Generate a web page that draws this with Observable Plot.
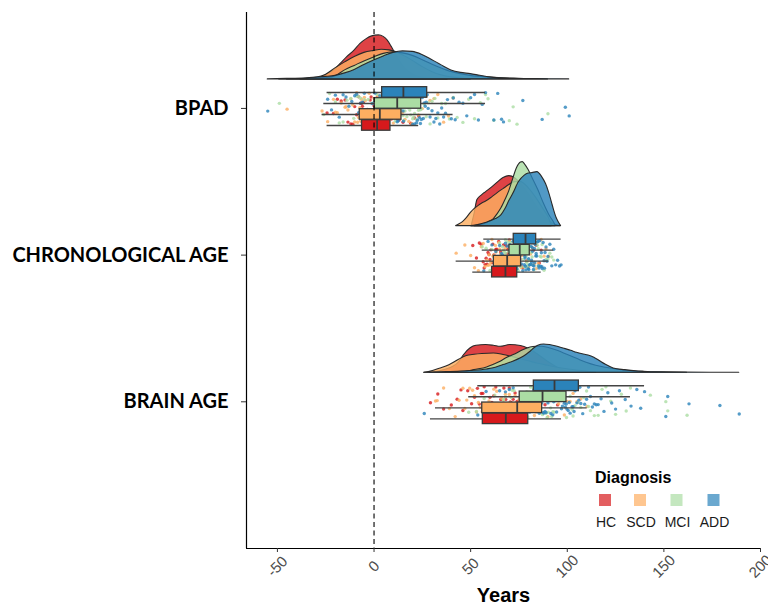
<!DOCTYPE html>
<html><head><meta charset="utf-8">
<script src="https://cdn.jsdelivr.net/npm/d3@7"></script>
<script src="https://cdn.jsdelivr.net/npm/@observablehq/plot@0.6"></script>
<style>body{margin:0;background:#fff;} svg{display:block;}</style>
</head><body><div id="chart"></div>
<script>
// ---------------- DATA ----------------
const categories = ["BRAIN AGE", "CHRONOLOGICAL AGE", "BPAD"]; // bottom -> top
const groups = ["HC", "SCD", "MCI", "ADD"];
const groupColors = ["#D7191C", "#FDAE61", "#ABDDA4", "#2B83BA"];
const xTicks = [-50, 0, 50, 100, 150, 200];
const xDomain = [-66, 200];
const refValue = 0;
const xTitle = "Years";
const legendTitle = "Diagnosis";

// boxplot stats per group (HC, SCD, MCI, ADD): [whiskerLow, q1, median, q3, whiskerHigh]
const boxBPAD = [[-24.3, -6.2, 1.6, 8.5, 23.1], [-26.9, -7.4, 3.0, 14.2, 40.9], [-26.0, 0.4, 12.0, 24.4, 57.7], [-24.3, 4.2, 15.2, 27.5, 57.7]];
const boxCA   = [[51.1, 61.1, 68.0, 74.1, 86.5], [42.5, 62.0, 68.9, 76.1, 90.4], [56.0, 70.1, 75.4, 80.6, 93.0], [56.8, 72.3, 78.4, 83.9, 96.8]];
const boxBA   = [[29.2, 56.3, 68.2, 79.8, 97.0], [31.8, 56.0, 74.1, 87.0, 110.3], [49.0, 75.4, 87.2, 99.6, 132.7], [53.7, 82.7, 93.4, 106.0, 140.0]];

// individual observations (years)
const ptsBPAD_HC  = [-24.3, -21, -19, -17, -15, -13.5, -12, -11, -10, -9, -8, -7, -6.5, -6.2, -6, -5.5, -5, -4, -3.5, -3, -2, -1.5, -1, 0, 0.5, 1, 1.6, -2.5, 2, 2.5, 3, 3.5, 4, 4.5, 5, 5.5, 6, 6.5, 7, 7.5, 8, 8.5, 9, 9.5, 10, 11, 12, 13, 14, 15, 16, 17.5, 19, 21, 23.1];
const ptsBPAD_SCD = [-45, -26.9, -24, -21, -19, -17, -15, -13.5, -12, -11, -10, -9, -8.5, -8, -7.4, -14.5, -20, -7, -6.5, -6, -5, -4.5, -4, -3, -2.5, -2, -1, -0.5, 0, 1, 1.5, 2, 3, 3.5, 4, 4.5, 5, 6, 6.5, 7, 8, 8.5, 9, 10, 10.5, 11, 12, 13, 14.2, 15, 16, 17, 18, 19.5, 21, 23, 25, 27, 29, 31, 33, 36, 38.5, 40.9];
const ptsBPAD_MCI = [-49, -26, -23, -20, -18, -16, -14, -12, -10.5, -9, -8, -7, -6, -5, -4, -3, -2, -1.5, -1, -0.5, 0, 0.4, -2.5, 0.8, 1.5, 2, 2.5, 3, 3.5, 4, 4.5, 5, 5.5, 6, 6.5, 7, 7.5, 8, 8.5, 9, 9.5, 10, 10.5, 11, 11.5, 12, 12.5, 13, 13.5, 14, 14.5, 15, 15.5, 16, 16.5, 17, 17.5, 18, 18.5, 19, 19.5, 20, 21, 22, 23, 24, 24.4, 20.5, 25, 26, 27, 28, 29, 30, 31.5, 33, 35, 37, 39, 41, 43, 46, 49, 52, 55, 57.7, 59, 62, 70, 72, 74, 90];
const ptsBPAD_ADD = [-55, -24, -22, -20, -18, -16, -14.5, -13, -11.5, -10, -9, -8, -7, -6, -5, -4, -3, -2, -1, 0, 0.5, 1, 1.5, 2, 3, 4, 4.5, 5, 5.5, 6, 6.5, 7, 7.5, 8, 8.5, 9, 9.5, 10, 10.5, 11, 11.5, 12, 12.5, 13, 13.5, 14, 14.5, 15, 15.2, 4.8, 7.2, 15.5, 16, 16.5, 17, 17.5, 18, 18.5, 19, 19.5, 20, 20.5, 21, 21.5, 22, 22.5, 23, 23.5, 24, 24.5, 25, 25.5, 26, 26.5, 27, 27.5, 28, 29, 30, 31, 32, 33, 34, 35, 36, 37, 38, 40, 41, 42, 44, 46, 48, 50, 52, 54, 56, 57.7, 62, 64, 66, 67, 77, 87, 99, 101];

const ptsCA_HC  = [51.1, 53, 54.5, 55.5, 56.5, 57.5, 58, 58.5, 59, 59.5, 60, 60.5, 61.1, 57, 61.5, 62, 62.5, 63, 63.5, 64, 64.5, 65, 65.5, 66, 66.5, 67, 67.5, 68, 68.4, 68.8, 69.2, 69.6, 70, 70.5, 71, 71.5, 72, 72.5, 73, 73.5, 74.1, 70.8, 74.5, 75, 75.5, 76, 76.5, 77, 78, 79, 80, 81, 82.5, 84, 85.5, 86.5];
const ptsCA_SCD = [42.5, 47, 50, 52, 54, 55.5, 56.5, 57.5, 58.5, 59, 59.5, 60, 60.5, 61, 61.5, 62, 62.4, 62.8, 63.2, 63.6, 64, 64.5, 65, 65.5, 66, 66.5, 67, 67.5, 68, 68.4, 68.9, 64.8, 69.3, 69.7, 70.1, 70.5, 71, 71.5, 72, 72.5, 73, 73.5, 74, 74.5, 75, 75.5, 76.1, 72.8, 76.5, 77, 77.5, 78, 79, 80, 81, 82, 83, 84, 85, 86.5, 88, 89, 90.4, 78.5];
const ptsCA_MCI = [56, 58, 60, 62, 63.5, 65, 66, 67, 67.5, 68, 68.5, 69, 69.3, 69.6, 70, 70.1, 64.2, 66.5, 68.2, 61, 70.4, 70.7, 71, 71.3, 71.6, 72, 72.3, 72.6, 73, 73.3, 73.6, 74, 74.3, 74.6, 75, 75.4, 71.8, 72.8, 73.8, 74.8, 75.2, 75.7, 76, 76.3, 76.6, 77, 77.3, 77.6, 78, 78.3, 78.6, 79, 79.3, 79.6, 80, 80.3, 80.6, 76.8, 77.8, 78.8, 79.8, 75.9, 81, 81.5, 82, 82.5, 83, 83.5, 84, 84.5, 85, 86, 87, 88, 89, 90, 91, 92, 93, 81.8, 82.8, 84.8, 86.5];
const ptsCA_ADD = [56.8, 59, 61, 62.5, 64, 65, 66, 67, 67.5, 68, 68.5, 69, 69.5, 70, 70.3, 70.6, 71, 71.3, 71.6, 72, 72.3, 63, 66.5, 68.8, 72.5, 72.8, 73, 73.3, 73.6, 74, 74.3, 74.6, 75, 75.3, 75.6, 76, 76.3, 76.6, 77, 77.3, 77.6, 78, 78.2, 78.4, 73.8, 75.8, 77.8, 76.8, 78.6, 78.9, 79.2, 79.5, 79.8, 80.1, 80.4, 80.7, 81, 81.3, 81.6, 81.9, 82.2, 82.5, 82.8, 83.1, 83.4, 83.7, 83.9, 79, 80, 81.5, 82, 83, 84.2, 84.6, 85, 85.4, 85.8, 86.2, 86.6, 87, 87.5, 88, 88.5, 89, 89.5, 90, 91, 92, 93, 94, 95, 96, 96.8, 85.2, 86.9, 88.2];

const ptsBA_HC  = [29.2, 33, 36, 40, 43, 46, 48.5, 50.5, 52, 53.5, 54.5, 55.5, 56.3, 45, 57, 58, 59, 60, 61, 62, 63, 64, 64.8, 65.6, 66.4, 67.2, 68.2, 61.5, 69, 70, 71, 72, 73, 74, 75, 76, 77, 78, 78.8, 79.8, 70.5, 74.5, 80.5, 81.5, 82.5, 83.5, 84.5, 85.5, 87, 88.5, 90, 91.5, 93, 95, 97, 86];
const ptsBA_SCD = [31.8, 32.7, 36, 39, 42, 44, 46, 48, 49.5, 51, 52, 53, 54, 55, 56, 47, 57, 58, 59.5, 61, 62, 63.5, 65, 66, 67, 68, 69, 70, 71, 72, 73, 74.1, 75, 75.8, 76.6, 77.4, 78.2, 79, 79.8, 80.6, 81.4, 82.2, 83, 83.8, 84.6, 85.4, 86.2, 87, 88, 89, 90, 91, 92.5, 94, 95.5, 97, 98.5, 100, 101.5, 103, 105, 107, 110.3, 93];
const ptsBA_MCI = [49, 53, 57, 60, 62.5, 64.5, 66.5, 68, 69.5, 70.5, 71.5, 72.5, 73.5, 74.5, 75.4, 67, 71, 73, 74, 76, 76.6, 77.2, 77.8, 78.4, 79, 79.6, 80.2, 80.8, 81.4, 82, 82.6, 83.2, 83.8, 84.4, 85, 85.6, 86.2, 86.8, 87.2, 81.1, 87.8, 88.4, 89, 89.6, 90.2, 90.8, 91.4, 92, 92.6, 93.2, 93.8, 94.4, 95, 95.6, 96.2, 96.8, 97.4, 98, 98.6, 99.6, 91.1, 100.5, 101.5, 102.5, 104, 105.5, 107, 108.5, 110, 112, 114, 116, 118, 120, 122.5, 125, 128, 130.5, 132.7, 103, 111, 143, 151, 152, 162];
const ptsBA_ADD = [26, 53.7, 58, 62, 65, 68, 70, 72, 74, 75.5, 76.5, 77.5, 78.5, 79, 79.5, 80, 80.5, 81, 81.5, 82, 82.7, 66.5, 73, 77, 80.8, 83, 83.5, 84, 84.5, 85, 85.5, 86, 86.5, 87, 87.5, 88, 88.5, 89, 89.5, 90, 90.5, 91, 91.5, 92, 92.5, 93, 93.4, 86.8, 89.8, 94, 94.5, 95, 95.5, 96, 96.5, 97, 97.5, 98, 98.5, 99, 99.5, 100, 100.5, 101, 101.5, 102, 102.5, 103, 104, 105, 106, 99.8, 103.5, 106.5, 107, 108, 109, 110, 111, 112, 113, 114, 115, 116, 117.5, 119, 121, 123, 125, 127, 130, 133, 136, 138, 140, 151, 152, 163, 179, 189];

// density curves: [years, relative density]
const densBPAD_HC  = [[-38, 0], [-30, 0.5], [-25, 4], [-20, 10], [-17, 16], [-14, 22], [-10, 29], [-7, 35.5], [-4, 40], [-1, 43], [2.5, 44], [5, 42.5], [7, 39], [9, 33], [11, 26], [13, 19], [16, 11], [20, 5], [25, 1.5], [30, 0.4], [38, 0]];
const densBPAD_SCD = [[-45, 0], [-35, 0.3], [-30, 1.5], [-25, 4.5], [-20, 11], [-15, 17], [-10, 22.5], [-5, 26.5], [0, 28.5], [4, 29.7], [8, 29], [12, 27], [16, 23], [20, 18.5], [25, 12.5], [30, 7.5], [35, 4], [40, 2], [46, 0.5], [50, 0]];
const densBPAD_MCI = [[-49, 0], [-40, 0.2], [-30, 0.6], [-25, 1.2], [-20, 3], [-15, 9], [-10, 13.5], [-5, 18], [0, 22], [5, 25.5], [10, 27], [15, 26], [20, 23.5], [25, 19.5], [30, 15], [35, 11], [40, 7.5], [50, 3.5], [60, 1.8], [75, 0.6], [90, 0]];
const densBPAD_ADD = [[-55, 0], [-45, 0.5], [-35, 1.2], [-30, 1.8], [-25, 2.5], [-20, 3.5], [-15, 6], [-10, 9.5], [-5, 14.5], [0, 19], [5, 23], [10, 26.5], [15, 28], [20, 27.5], [25, 24.5], [30, 19.5], [35, 14], [40, 9], [45, 6.5], [50, 5.3], [55, 3.6], [60, 2], [65, 1.1], [70, 0.6], [80, 0.3], [90, 0.15], [101, 0]];

const densCA_HC  = [[50.5, 0], [52, 12], [53.5, 26], [56, 31], [58, 34], [61, 38.5], [64, 43.5], [67, 48], [70, 50], [73, 48], [76, 42], [80, 32], [84, 20], [88, 10], [92, 3], [95, 0.5], [96.5, 0]];
const densCA_SCD = [[42.5, 0], [44, 1.5], [46, 4], [48, 8], [50, 13], [52, 17], [54, 20], [56, 22.5], [58, 24.5], [61, 28.5], [64, 33], [67, 37], [70, 41], [73, 44], [76, 44], [80, 38], [84, 28], [88, 16], [90.5, 8], [92, 0]];
const densCA_MCI = [[50, 0], [55, 1], [58, 2.5], [60, 4.5], [62, 7], [64, 12], [66, 18], [68, 26], [70, 35], [72, 47], [74, 58], [76, 63.5], [77, 64], [78, 62], [80, 56], [82, 48], [85, 36], [88, 22], [91, 10], [93, 4], [94, 0]];
const densCA_ADD = [[52, 0], [56, 2], [60, 4.5], [63, 7], [66, 11], [68, 17], [70, 25], [72, 32], [75, 44], [78, 50.5], [80, 52.5], [82, 53], [84.5, 54], [87, 49], [89, 42], [90.5, 34], [92, 24], [93, 17], [94.5, 8], [95.5, 4], [96.8, 0]];

const densBA_HC  = [[29, 0], [33, 1], [37, 3], [41, 6], [44, 10.5], [46.5, 17.5], [50, 24.5], [53, 27], [58, 27.7], [62, 27], [65.5, 26], [70.5, 27.7], [76, 26.7], [80, 24], [85, 18], [90, 11], [95, 5], [98, 2], [100, 0]];
const densBA_SCD = [[26, 0], [30, 1.5], [34, 4], [39, 7.5], [44, 13], [48, 16.7], [52, 18], [56, 18.8], [62, 19.3], [67, 17.8], [71, 16], [75, 14], [80, 11.5], [85, 9], [90, 7], [95, 5], [100, 3.5], [105, 2.3], [110, 1.2], [115, 0]];
const densBA_MCI = [[45, 0], [48, 1], [52, 2.7], [58.5, 5.3], [62, 8], [65.5, 11], [69, 15], [72.3, 17.7], [77.5, 22.7], [81, 25.3], [84, 26], [87, 26], [90, 25], [95, 22], [100, 18], [105, 14], [110, 10], [115, 7], [120, 5], [130, 2], [140, 0.8], [150, 0.4], [162, 0]];
const densBA_ADD = [[26, 0], [35, 0.5], [45, 1.2], [50, 1.8], [58.5, 3.3], [63, 5], [67, 7.7], [72, 11], [76, 14.5], [79, 18], [81, 21], [83, 24.5], [85, 27], [88, 28.3], [91, 27.7], [95, 26], [98, 24.3], [102, 22], [105, 20], [108, 18.5], [111, 17.3], [114, 15], [117, 11.5], [120, 8], [124, 4.3], [130, 2.6], [137, 1.3], [145, 0.4], [160, 0.15], [175, 0.05], [189, 0]];

// ---------------- ASSEMBLY ----------------
const byCat = {
  "BPAD": {box: boxBPAD, pts: [ptsBPAD_HC, ptsBPAD_SCD, ptsBPAD_MCI, ptsBPAD_ADD], dens: [densBPAD_HC, densBPAD_SCD, densBPAD_MCI, densBPAD_ADD]},
  "CHRONOLOGICAL AGE": {box: boxCA, pts: [ptsCA_HC, ptsCA_SCD, ptsCA_MCI, ptsCA_ADD], dens: [densCA_HC, densCA_SCD, densCA_MCI, densCA_ADD]},
  "BRAIN AGE": {box: boxBA, pts: [ptsBA_HC, ptsBA_SCD, ptsBA_MCI, ptsBA_ADD], dens: [densBA_HC, densBA_SCD, densBA_MCI, densBA_ADD]}
};

// layout (y in category units)
const yDomain = [0, 3.654];
const catPos = c => categories.indexOf(c) + 1;
const DENS_BASE = 0.198, DENS_SCALE = 1 / 146.7;
const BOX_OFF = [-0.116, -0.041, 0.034, 0.109];
const BOX_HALF = 0.036, JITTER = 0.108;

function jit(i, s) {
  let t = (Math.imul(i + 1, 0x9E3779B1) ^ Math.imul(s + 7, 0x85EBCA77)) >>> 0;
  t ^= t >>> 15; t = Math.imul(t, 0x2C1B3C6D) >>> 0;
  t ^= t >>> 12; t = Math.imul(t, 0x297A2D39) >>> 0;
  t ^= t >>> 15;
  return (t >>> 0) / 4294967296;
}

const densRows = [], ptRows = [], boxRows = [];
categories.forEach((cat, ci) => {
  const p = catPos(cat), d = byCat[cat];
  groups.forEach((g, gi) => {
    for (const [x, h] of d.dens[gi]) densRows.push({key: cat + "|" + g, group: g, x, y1: p + DENS_BASE, y2: p + DENS_BASE + h * DENS_SCALE});
    d.pts[gi].forEach((x, i) => ptRows.push({group: g, x, y: p + (jit(i, ci * 10 + gi) * 2 - 1) * JITTER}));
    const [lo, q1, med, q3, hi] = d.box[gi];
    const yc = p + BOX_OFF[gi];
    boxRows.push({group: g, lo, q1, med, q3, hi, yc, y1: yc - BOX_HALF, y2: yc + BOX_HALF});
  });
});

const chart = Plot.plot({
  width: 768, height: 607,
  marginLeft: 246, marginRight: 8, marginTop: 12, marginBottom: 59,
  style: {fontFamily: "'Liberation Sans', Arial, sans-serif", background: "white", overflow: "visible"},
  x: {domain: xDomain},
  y: {domain: yDomain},
  color: {domain: groups, range: groupColors},
  marks: [
    Plot.areaY(densRows, {x: "x", y1: "y1", y2: "y2", z: "key", fill: "group", fillOpacity: 0.82, stroke: "#2a2a2a", strokeWidth: 1.1, curve: "monotone-x"}),
    Plot.dot(ptRows, {x: "x", y: "y", r: 1.7, fill: "group", fillOpacity: 0.8, stroke: "none"}),
    Plot.ruleY(boxRows, {y: "yc", x1: "lo", x2: "hi", stroke: "#444", strokeWidth: 1.4}),
    Plot.rect(boxRows, {x1: "q1", x2: "q3", y1: "y1", y2: "y2", fill: "group", stroke: "#3a3a3a", strokeWidth: 1.3}),
    Plot.ruleX(boxRows, {x: "med", y1: "y1", y2: "y2", stroke: "#3a3a3a", strokeWidth: 1.8}),
    Plot.ruleX([refValue], {stroke: "#000", strokeWidth: 1.1, strokeDasharray: "5,3.5"}),
    Plot.ruleX([xDomain[0]], {stroke: "#000", strokeWidth: 1.2}),
    Plot.ruleY([yDomain[0]], {stroke: "#000", strokeWidth: 1.2}),
    Plot.axisY({ticks: [1, 2, 3], tickFormat: v => categories[v - 1], tickSize: 5, tickPadding: 13, label: null,
      fontSize: 20, fontWeight: "bold", fontFamily: "Lato, 'Open Sans', sans-serif", fill: "#000", stroke: "#333"}),
    Plot.axisX({ticks: xTicks, tickFormat: v => (v < 0 ? "-" + Math.abs(v) : String(v)), tickSize: 4, tickRotate: -45, textAnchor: "middle", lineAnchor: "middle", tickPadding: 14,
      label: null, fontSize: 15, fill: "#4d4d4d", stroke: "#333"}),
    Plot.text([xTitle], {frameAnchor: "bottom", dy: 53, text: d => d, fontSize: 20, fontWeight: "bold", fill: "#000"})
  ]
});
document.getElementById("chart").appendChild(chart);

// legend
const svg = d3.select(chart);
const lg = svg.append("g").attr("font-family", "'Liberation Sans', Arial, sans-serif");
lg.append("text").attr("x", 595).attr("y", 483).attr("text-anchor", "start").attr("font-size", 16).attr("font-weight", "bold").attr("fill", "#000").text(legendTitle);
const lgX = [605, 640, 676.5, 713.5];
groups.forEach((g, i) => {
  lg.append("rect").attr("x", lgX[i] - 6).attr("y", 494).attr("width", 12).attr("height", 12)
    .attr("fill", groupColors[i]).attr("fill-opacity", 0.7);
  lg.append("text").attr("x", lgX[i] + 1).attr("y", 527).attr("text-anchor", "middle").attr("font-size", 14).attr("fill", "#1a1a1a").text(g);
});
</script>
</body></html>
